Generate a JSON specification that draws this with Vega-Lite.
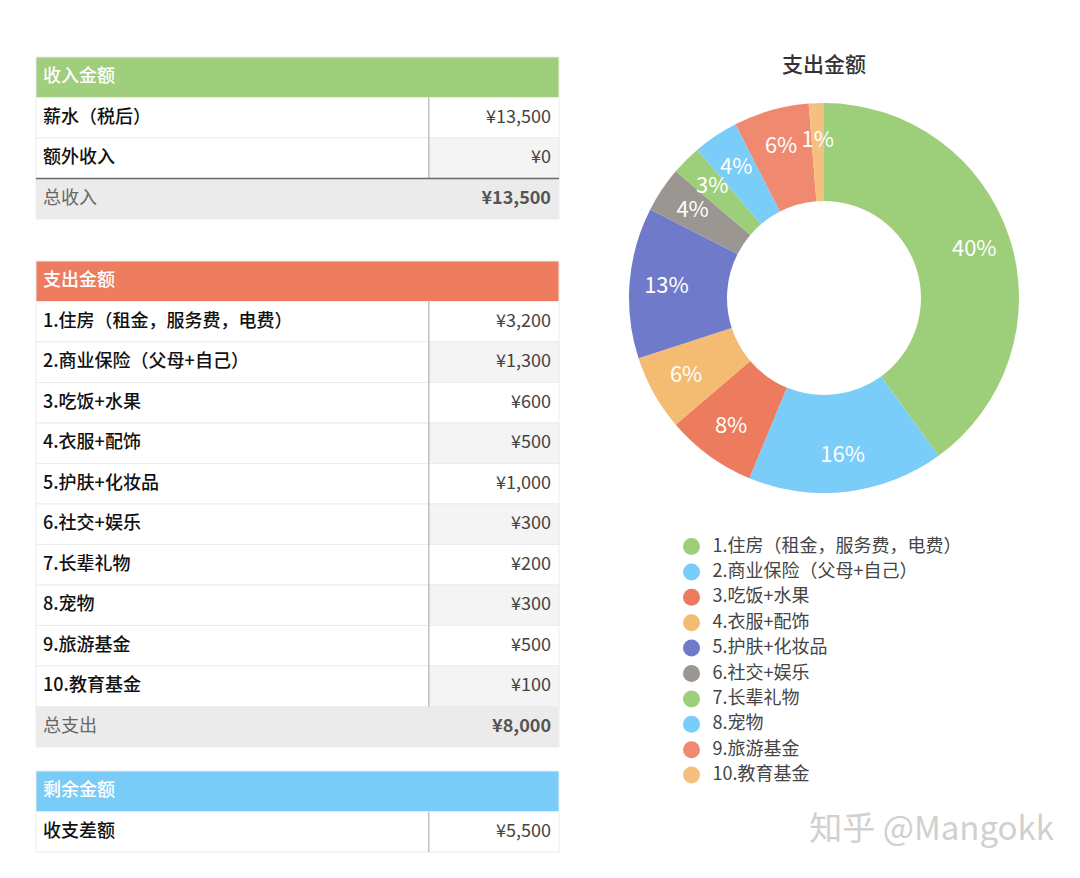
{
  "$schema": "https://vega.github.io/schema/vega-lite/v6.json",
  "background": "white",
  "padding": {"left": 35, "top": 55, "right": 0, "bottom": 0},
  "config": {"view": {"stroke": null}, "font": "Noto Sans CJK SC"},
  "title": {"text": "知乎 @Mangokk", "orient": "bottom", "anchor": "end", "fontSize": 33, "color": "#d0d0d0", "font": "Noto Sans CJK SC", "fontWeight": "normal", "offset": -39, "dx": 30},
  "datasets": {
    "tables": [
      {"tbl": "income", "row": 0, "kind": "header", "label": "收入金额", "value": ""},
      {"tbl": "income", "row": 1, "kind": "item", "label": "薪水（税后）", "value": "¥13,500"},
      {"tbl": "income", "row": 2, "kind": "item", "label": "额外收入", "value": "¥0"},
      {"tbl": "income", "row": 3, "kind": "total", "label": "总收入", "value": "¥13,500"},
      {"tbl": "expense", "row": 0, "kind": "header", "label": "支出金额", "value": ""},
      {"tbl": "expense", "row": 1, "kind": "item", "label": "1.住房（租金，服务费，电费）", "value": "¥3,200"},
      {"tbl": "expense", "row": 2, "kind": "item", "label": "2.商业保险（父母+自己）", "value": "¥1,300"},
      {"tbl": "expense", "row": 3, "kind": "item", "label": "3.吃饭+水果", "value": "¥600"},
      {"tbl": "expense", "row": 4, "kind": "item", "label": "4.衣服+配饰", "value": "¥500"},
      {"tbl": "expense", "row": 5, "kind": "item", "label": "5.护肤+化妆品", "value": "¥1,000"},
      {"tbl": "expense", "row": 6, "kind": "item", "label": "6.社交+娱乐", "value": "¥300"},
      {"tbl": "expense", "row": 7, "kind": "item", "label": "7.长辈礼物", "value": "¥200"},
      {"tbl": "expense", "row": 8, "kind": "item", "label": "8.宠物", "value": "¥300"},
      {"tbl": "expense", "row": 9, "kind": "item", "label": "9.旅游基金", "value": "¥500"},
      {"tbl": "expense", "row": 10, "kind": "item", "label": "10.教育基金", "value": "¥100"},
      {"tbl": "expense", "row": 11, "kind": "total", "label": "总支出", "value": "¥8,000"},
      {"tbl": "balance", "row": 0, "kind": "header", "label": "剩余金额", "value": ""},
      {"tbl": "balance", "row": 1, "kind": "item", "label": "收支差额", "value": "¥5,500"}
    ],
    "expenses": [
      {"idx": 1, "cat": "1.住房（租金，服务费，电费）", "amount": 3200, "pct": "40%"},
      {"idx": 2, "cat": "2.商业保险（父母+自己）", "amount": 1300, "pct": "16%"},
      {"idx": 3, "cat": "3.吃饭+水果", "amount": 600, "pct": "8%"},
      {"idx": 4, "cat": "4.衣服+配饰", "amount": 500, "pct": "6%"},
      {"idx": 5, "cat": "5.护肤+化妆品", "amount": 1000, "pct": "13%"},
      {"idx": 6, "cat": "6.社交+娱乐", "amount": 300, "pct": "4%"},
      {"idx": 7, "cat": "7.长辈礼物", "amount": 200, "pct": "3%"},
      {"idx": 8, "cat": "8.宠物", "amount": 300, "pct": "4%"},
      {"idx": 9, "cat": "9.旅游基金", "amount": 500, "pct": "6%"},
      {"idx": 10, "cat": "10.教育基金", "amount": 100, "pct": "1%"}
    ]
  },
  "hconcat": [
    {
      "vconcat": [
        {
          "vconcat": [
            {
              "width": 523, "height": 162,
              "data": {"name": "tables"},
              "transform": [{"filter": "datum.tbl === 'income'"}],
              "encoding": {"y": {"field": "row", "type": "ordinal", "axis": null, "scale": {"paddingInner": 0, "paddingOuter": 0}}},
              "layer": [
                {"mark": {"type": "rect", "stroke": "#ececec", "strokeWidth": 1},
                 "encoding": {"x": {"datum": 0, "type": "quantitative", "scale": {"domain": [0, 100]}, "axis": null}, "x2": {"datum": 100},
                   "fill": {"condition": [{"test": "datum.kind === 'header'", "value": "#9fce7c"}, {"test": "datum.kind === 'total'", "value": "#ebebeb"}], "value": "#ffffff"}}},
                {"transform": [{"filter": "datum.kind === 'item' && datum.row % 2 === 0"}],
                 "mark": {"type": "rect", "fill": "#f4f4f4", "stroke": "#ececec", "strokeWidth": 1},
                 "encoding": {"x": {"datum": 75.1, "type": "quantitative"}, "x2": {"datum": 100}}},
                {"transform": [{"filter": "datum.kind === 'item'"}],
                 "mark": {"type": "rect", "fill": null, "stroke": "#bdbdbd", "strokeWidth": 1},
                 "encoding": {"x": {"datum": 75.1, "type": "quantitative"}, "x2": {"datum": 75.1}}},
                {"transform": [{"filter": "datum.kind === 'total'"}],
                 "mark": {"type": "rule", "stroke": "#6a6a6a", "strokeWidth": 1.5},
                 "encoding": {"x": {"datum": 0, "type": "quantitative"}, "x2": {"datum": 100}, "y": {"field": "row", "type": "ordinal", "bandPosition": 0}}},
                {"transform": [{"filter": "datum.kind === 'header'"}],
                 "mark": {"type": "text", "align": "left", "dx": 7, "fontSize": 18, "fontWeight": 500, "fill": "#ffffff"},
                 "encoding": {"x": {"datum": 0, "type": "quantitative"}, "text": {"field": "label"}}},
                {"transform": [{"filter": "datum.kind === 'item'"}],
                 "mark": {"type": "text", "align": "left", "dx": 7, "fontSize": 18, "fontWeight": 500, "fill": "#111111"},
                 "encoding": {"x": {"datum": 0, "type": "quantitative"}, "text": {"field": "label"}}},
                {"transform": [{"filter": "datum.kind === 'item'"}],
                 "mark": {"type": "text", "align": "right", "dx": -8, "fontSize": 18, "fontWeight": "normal", "fill": "#444444"},
                 "encoding": {"x": {"datum": 100, "type": "quantitative"}, "text": {"field": "value"}}},
                {"transform": [{"filter": "datum.kind === 'total'"}],
                 "mark": {"type": "text", "align": "left", "dx": 7, "fontSize": 18, "fontWeight": "normal", "fill": "#666666"},
                 "encoding": {"x": {"datum": 0, "type": "quantitative"}, "text": {"field": "label"}}},
                {"transform": [{"filter": "datum.kind === 'total'"}],
                 "mark": {"type": "text", "align": "right", "dx": -8, "fontSize": 18, "fontWeight": "bold", "fill": "#555555"},
                 "encoding": {"x": {"datum": 100, "type": "quantitative"}, "text": {"field": "value"}}}
              ]
            },
            {
              "width": 523, "height": 486,
              "data": {"name": "tables"},
              "transform": [{"filter": "datum.tbl === 'expense'"}],
              "encoding": {"y": {"field": "row", "type": "ordinal", "axis": null, "scale": {"paddingInner": 0, "paddingOuter": 0}}},
              "layer": [
                {"mark": {"type": "rect", "stroke": "#ececec", "strokeWidth": 1},
                 "encoding": {"x": {"datum": 0, "type": "quantitative", "scale": {"domain": [0, 100]}, "axis": null}, "x2": {"datum": 100},
                   "fill": {"condition": [{"test": "datum.kind === 'header'", "value": "#ee7c5f"}, {"test": "datum.kind === 'total'", "value": "#ebebeb"}], "value": "#ffffff"}}},
                {"transform": [{"filter": "datum.kind === 'item' && datum.row % 2 === 0"}],
                 "mark": {"type": "rect", "fill": "#f4f4f4", "stroke": "#ececec", "strokeWidth": 1},
                 "encoding": {"x": {"datum": 75.1, "type": "quantitative"}, "x2": {"datum": 100}}},
                {"transform": [{"filter": "datum.kind === 'item'"}],
                 "mark": {"type": "rect", "fill": null, "stroke": "#bdbdbd", "strokeWidth": 1},
                 "encoding": {"x": {"datum": 75.1, "type": "quantitative"}, "x2": {"datum": 75.1}}},
                {"transform": [{"filter": "datum.kind === 'header'"}],
                 "mark": {"type": "text", "align": "left", "dx": 7, "fontSize": 18, "fontWeight": 500, "fill": "#ffffff"},
                 "encoding": {"x": {"datum": 0, "type": "quantitative"}, "text": {"field": "label"}}},
                {"transform": [{"filter": "datum.kind === 'item'"}],
                 "mark": {"type": "text", "align": "left", "dx": 7, "fontSize": 18, "fontWeight": 500, "fill": "#111111"},
                 "encoding": {"x": {"datum": 0, "type": "quantitative"}, "text": {"field": "label"}}},
                {"transform": [{"filter": "datum.kind === 'item'"}],
                 "mark": {"type": "text", "align": "right", "dx": -8, "fontSize": 18, "fontWeight": "normal", "fill": "#444444"},
                 "encoding": {"x": {"datum": 100, "type": "quantitative"}, "text": {"field": "value"}}},
                {"transform": [{"filter": "datum.kind === 'total'"}],
                 "mark": {"type": "text", "align": "left", "dx": 7, "fontSize": 18, "fontWeight": "normal", "fill": "#666666"},
                 "encoding": {"x": {"datum": 0, "type": "quantitative"}, "text": {"field": "label"}}},
                {"transform": [{"filter": "datum.kind === 'total'"}],
                 "mark": {"type": "text", "align": "right", "dx": -8, "fontSize": 18, "fontWeight": "bold", "fill": "#555555"},
                 "encoding": {"x": {"datum": 100, "type": "quantitative"}, "text": {"field": "value"}}}
              ]
            }
          ],
          "spacing": 40
        },
        {
          "width": 523, "height": 81,
          "data": {"name": "tables"},
          "transform": [{"filter": "datum.tbl === 'balance'"}],
          "encoding": {"y": {"field": "row", "type": "ordinal", "axis": null, "scale": {"paddingInner": 0, "paddingOuter": 0}}},
          "layer": [
            {"mark": {"type": "rect", "stroke": "#ececec", "strokeWidth": 1},
             "encoding": {"x": {"datum": 0, "type": "quantitative", "scale": {"domain": [0, 100]}, "axis": null}, "x2": {"datum": 100},
               "fill": {"condition": [{"test": "datum.kind === 'header'", "value": "#79ccf8"}, {"test": "datum.kind === 'total'", "value": "#ebebeb"}], "value": "#ffffff"}}},
            {"transform": [{"filter": "datum.kind === 'item'"}],
             "mark": {"type": "rect", "fill": null, "stroke": "#bdbdbd", "strokeWidth": 1},
             "encoding": {"x": {"datum": 75.1, "type": "quantitative"}, "x2": {"datum": 75.1}}},
            {"transform": [{"filter": "datum.kind === 'header'"}],
             "mark": {"type": "text", "align": "left", "dx": 7, "fontSize": 18, "fontWeight": 500, "fill": "#ffffff"},
             "encoding": {"x": {"datum": 0, "type": "quantitative"}, "text": {"field": "label"}}},
            {"transform": [{"filter": "datum.kind === 'item'"}],
             "mark": {"type": "text", "align": "left", "dx": 7, "fontSize": 18, "fontWeight": 500, "fill": "#111111"},
             "encoding": {"x": {"datum": 0, "type": "quantitative"}, "text": {"field": "label"}}},
            {"transform": [{"filter": "datum.kind === 'item'"}],
             "mark": {"type": "text", "align": "right", "dx": -8, "fontSize": 18, "fontWeight": "normal", "fill": "#444444"},
             "encoding": {"x": {"datum": 100, "type": "quantitative"}, "text": {"field": "value"}}}
          ]
        }
      ],
      "spacing": 22
    },
    {
      "width": 400, "height": 482,
      "title": {"text": "支出金额", "fontSize": 21, "color": "#333333", "font": "Noto Sans CJK SC", "fontWeight": 500, "offset": -19, "anchor": "middle"},
      "data": {"name": "expenses"},
      "encoding": {
        "theta": {"field": "amount", "type": "quantitative", "stack": true},
        "order": {"field": "idx", "type": "quantitative"}
      },
      "layer": [
        {"mark": {"type": "arc", "outerRadius": 195, "innerRadius": 97},
         "encoding": {"color": {"field": "cat", "type": "nominal",
           "scale": {"domain": ["1.住房（租金，服务费，电费）", "2.商业保险（父母+自己）", "3.吃饭+水果", "4.衣服+配饰", "5.护肤+化妆品", "6.社交+娱乐", "7.长辈礼物", "8.宠物", "9.旅游基金", "10.教育基金"],
                     "range": ["#9dcf7b", "#7acdf8", "#ed7b5e", "#f4bb72", "#6f7bca", "#9b9691", "#9dcf7b", "#7acdf8", "#ef8a70", "#f5bf80"]},
           "legend": {"orient": "none", "legendX": 646.5, "legendY": 480.5, "title": null, "symbolType": "circle", "symbolSize": 289, "labelFontSize": 18, "labelColor": "#444444", "labelFont": "Noto Sans CJK SC", "labelLimit": 400, "rowPadding": 7.4, "labelOffset": 12, "symbolStrokeWidth": 0}}}},
        {"mark": {"type": "text", "radius": 158, "fill": "#ffffff", "fontSize": 22, "font": "Noto Sans CJK SC"},
         "encoding": {"text": {"field": "pct"}}}
      ]
    }
  ],
  "spacing": 64
}
